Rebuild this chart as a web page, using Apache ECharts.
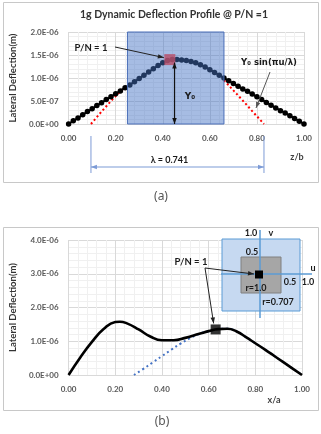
<!DOCTYPE html>
<html><head><meta charset="utf-8">
<script src="https://cdn.jsdelivr.net/npm/echarts@6/dist/echarts.min.js"></script>
<style>html,body{margin:0;padding:0;background:#fff}#c{width:321px;height:434px}</style>
</head><body><div id="c"></div>
<script>
// ---------- DATA (deflection values in units of 1E-06 m) ----------
// Panel (a): 1g dynamic deflection profile vs z/b
const zA = [0.00,0.02,0.04,0.06,0.08,0.10,0.12,0.14,0.16,0.18,0.20,0.22,0.24,0.26,0.28,0.30,0.32,0.34,0.36,0.38,0.40,0.42,0.44,0.46,0.48,0.50,0.52,0.54,0.56,0.58,0.60,0.62,0.64,0.66,0.68,0.70,0.72,0.74,0.76,0.78,0.80,0.82,0.84,0.86,0.88,0.90,0.92,0.94,0.96,0.98,1.00];
const defA = [0.00,0.07,0.13,0.20,0.27,0.33,0.40,0.46,0.53,0.59,0.66,0.72,0.79,0.85,0.92,0.99,1.06,1.13,1.20,1.27,1.33,1.38,1.40,1.40,1.39,1.38,1.36,1.33,1.29,1.24,1.18,1.12,1.06,1.00,0.94,0.88,0.82,0.76,0.71,0.65,0.59,0.53,0.47,0.41,0.35,0.29,0.24,0.18,0.12,0.06,0.00];
// Fitted Yo sin(pi u / lambda), visible segments outside the highlighted box
const zSinA = [0.095,0.14,0.18,0.22,0.25,null,0.66,0.70,0.74,0.78,0.83];
const sinA  = [0.00,0.27,0.50,0.71,0.84,null,0.95,0.73,0.51,0.28,0.00];
// P/N = 1 point
const pnA = [0.43, 1.40];
// Highlighted box [zStart, zEnd, yLow, yHigh]
const boxA = [0.25, 0.66, 0.0, 2.0];
// Lambda span
const lambdaStart = 0.095, lambdaEnd = 0.83, lambdaText = 'λ = 0.741';
const yoZ = 0.45;

// Panel (b): deflection vs x/a
const xB = [0.00,0.05,0.10,0.15,0.20,0.22,0.25,0.30,0.35,0.40,0.45,0.50,0.56,0.60,0.64,0.68,0.72,0.76,0.80,0.84,0.88,0.92,0.96,1.00];
const defB = [0.00,0.52,0.98,1.36,1.57,1.58,1.53,1.35,1.14,1.03,1.03,1.10,1.22,1.30,1.36,1.37,1.29,1.12,0.94,0.76,0.57,0.38,0.19,0.00];
const xSinB = [0.28,0.32,0.36,0.40,0.44,0.48,0.52,0.56,0.60,0.64,0.68,0.72,0.76,0.80,0.84,0.88,0.92,0.96,1.00];
const sinB  = [0.00,0.18,0.37,0.56,0.75,0.93,1.09,1.22,1.30,1.36,1.37,1.29,1.12,0.94,0.76,0.57,0.38,0.19,0.00];
const pnB = [0.63, 1.35];

// ---------- helpers ----------
function sci(vMicro){
  const v = vMicro * 1e-6;
  if (Math.abs(v) < 1e-15) return '0.0E+00';
  let e = Math.floor(Math.log10(Math.abs(v)) + 1e-9);
  let m = v / Math.pow(10, e);
  return m.toFixed(1) + 'E' + (e < 0 ? '-' : '+') + String(Math.abs(e)).padStart(2, '0');
}
const FONT = 'Lato, "Open Sans", sans-serif';
const pairs = (xs, ys) => xs.map((x, i) => ys[i] === null ? [null, null] : [x, ys[i]]);

const chart = echarts.init(document.getElementById('c'), null, {renderer: 'canvas'});

function xAxisCfg(gi){
  return {
    type: 'value', gridIndex: gi, min: 0, max: 1, interval: 0.2,
    axisLine: {show: true, lineStyle: {color: '#d9d9d9'}},
    axisTick: {show: false},
    axisLabel: {color: '#595959', fontFamily: FONT, fontWeight: 'bold', fontSize: 8, margin: 10,
      formatter: v => v.toFixed(2)},
    splitLine: {show: true, lineStyle: {color: '#d9d9d9', width: 1}},
    minorTick: {show: false, splitNumber: 5},
    minorSplitLine: {show: true, lineStyle: {color: '#f0f0f0', width: 1}}
  };
}
function yAxisCfg(gi, max, interval){
  return {
    type: 'value', gridIndex: gi, min: 0, max: max, interval: interval,
    name: 'Lateral Deflection(m)', nameLocation: 'middle', nameGap: 48,
    nameTextStyle: {color: '#333', fontFamily: FONT, fontWeight: 'bold', fontSize: 9.5},
    axisLine: {show: false}, axisTick: {show: false},
    axisLabel: {color: '#595959', fontFamily: FONT, fontWeight: 'bold', fontSize: 8, margin: 10,
      formatter: v => sci(v)},
    splitLine: {show: true, lineStyle: {color: '#d9d9d9', width: 1}},
    minorTick: {show: false, splitNumber: 5},
    minorSplitLine: {show: true, lineStyle: {color: '#f0f0f0', width: 1}}
  };
}

const option = {
  animation: false,
  backgroundColor: '#ffffff',
  grid: [
    {left: 67, top: 32, width: 237, height: 92},
    {left: 67, top: 240, width: 235, height: 135}
  ],
  xAxis: [xAxisCfg(0), xAxisCfg(1)],
  yAxis: [yAxisCfg(0, 2.0, 0.5), yAxisCfg(1, 4.0, 1.0)],
  series: [
    { type: 'line', xAxisIndex: 0, yAxisIndex: 0, z: 2, showSymbol: false, connectNulls: false,
      data: pairs(zSinA, sinA),
      lineStyle: {color: '#ff0000', width: 2, type: [2, 2.5]} },
    { type: 'line', xAxisIndex: 0, yAxisIndex: 0, z: 3, symbol: 'circle', symbolSize: 5.5,
      data: pairs(zA, defA),
      lineStyle: {color: '#000', width: 2}, itemStyle: {color: '#000'} },
    { type: 'custom', xAxisIndex: 0, yAxisIndex: 0, z: 4, data: [boxA],
      renderItem: (params, api) => {
        const p0 = api.coord([api.value(0), api.value(3)]);
        const p1 = api.coord([api.value(1), api.value(2)]);
        return {type: 'rect', shape: {x: p0[0], y: p0[1], width: p1[0] - p0[0], height: p1[1] - p0[1]},
          style: {fill: 'rgba(68,114,196,0.48)', stroke: '#4a6fb8', lineWidth: 1}};
      } },
    { type: 'scatter', xAxisIndex: 0, yAxisIndex: 0, z: 6, symbol: 'rect', symbolSize: 11,
      data: [pnA], itemStyle: {color: '#b94d68'} },
    { type: 'line', xAxisIndex: 1, yAxisIndex: 1, z: 2, showSymbol: false,
      data: pairs(xSinB, sinB), smooth: true,
      lineStyle: {color: '#4472c4', width: 2, type: [2, 3]} },
    { type: 'line', xAxisIndex: 1, yAxisIndex: 1, z: 3, showSymbol: false, smooth: true,
      data: pairs(xB, defB), lineStyle: {color: '#000', width: 2.6} },
    { type: 'scatter', xAxisIndex: 1, yAxisIndex: 1, z: 6, symbol: 'rect', symbolSize: 10,
      data: [pnB], itemStyle: {color: '#000'} }
  ]
};
chart.setOption(option);

// ---------- annotations ----------
const pA = v => chart.convertToPixel({xAxisIndex: 0, yAxisIndex: 0}, v);
const pB = v => chart.convertToPixel({xAxisIndex: 1, yAxisIndex: 1}, v);

function head(x1, y1, x2, y2, len, wid, color){
  const a = Math.atan2(y2 - y1, x2 - x1);
  const bx = x2 - len * Math.cos(a), by = y2 - len * Math.sin(a);
  const nx = -Math.sin(a) * wid / 2, ny = Math.cos(a) * wid / 2;
  return {type: 'polygon', z: 20, shape: {points: [[x2, y2], [bx + nx, by + ny], [bx - nx, by - ny]]}, style: {fill: color}};
}
function line(x1, y1, x2, y2, color, w){
  return {type: 'line', z: 20, shape: {x1, y1, x2, y2}, style: {stroke: color, lineWidth: w || 1}};
}
function arrow(x1, y1, x2, y2, color, w, both){
  const els = [line(x1, y1, x2, y2, color, w), head(x1, y1, x2, y2, 6, 4.5, color)];
  if (both) els.push(head(x2, y2, x1, y1, 6, 4.5, color));
  return els;
}
function txt(x, y, t, opt){
  return {type: 'text', z: 21, x, y, style: Object.assign({text: t, fill: '#1a1a1a', font: 'bold 9px ' + FONT,
    align: 'center', verticalAlign: 'middle'}, opt || {})};
}
const g = [];
// panel frames
g.push({type: 'rect', z: 0, shape: {x: 3.5, y: 2.5, width: 315, height: 180}, style: {fill: 'none', stroke: '#c8c8c8', lineWidth: 1}});
g.push({type: 'rect', z: 0, shape: {x: 3.5, y: 227.5, width: 315, height: 183}, style: {fill: 'none', stroke: '#c8c8c8', lineWidth: 1}});
// titles / axis names / captions
g.push(txt(174, 15, '1g Dynamic Deflection Profile @ P/N =1', {font: 'bold 10.5px ' + FONT, fill: '#333'}));
g.push(txt(297, 157, 'z/b', {font: 'bold 9px ' + FONT, fill: '#404040'}));
g.push(txt(274, 400, 'x/a', {font: 'bold 9px ' + FONT, fill: '#404040'}));
g.push(txt(161, 197, '(a)', {font: '12px "Noto Sans", sans-serif', fill: '#555'}));
g.push(txt(162, 422, '(b)', {font: '12px "Noto Sans", sans-serif', fill: '#555'}));

// (a) annotations
const mA = pA(pnA);
g.push(txt(91, 48, 'P/N = 1', {font: 'bold 9.5px ' + FONT}));
g.push(...arrow(115, 47, mA[0] - 6, mA[1] - 2, '#222', 1));
const yTop = pA([yoZ, pnA[1]]), yBot = pA([yoZ, 0]);
g.push(...arrow(yTop[0], yTop[1] + 3, yBot[0], yBot[1], '#111', 1.2, true));
g.push(txt(190, 97, 'Y₀', {font: 'bold 9px "DejaVu Sans", ' + FONT}));
g.push(txt(269, 63, 'Y₀ sin(πu/λ)', {font: 'bold 8.5px "DejaVu Sans", ' + FONT}));
g.push(...arrow(270, 72, 256, 108, '#555', 1));
const l0 = pA([lambdaStart, 0]), l1 = pA([lambdaEnd, 0]);
const lc = '#7d9bd6';
g.push(line(l0[0], 136, l0[0], 173, lc, 1));
g.push(line(l1[0], 136, l1[0], 173, lc, 1));
g.push(...arrow(l0[0], 167, l1[0], 167, lc, 1.2, true));
g.push(txt((l0[0] + l1[0]) / 2 - 8, 160, lambdaText, {font: 'bold 9px ' + FONT}));

// (b) annotations: inset square diagram
g.push({type: 'rect', z: 10, shape: {x: 222, y: 239, width: 78, height: 72}, style: {fill: '#c6d9f1', stroke: '#5b9bd5', lineWidth: 1}});
g.push({type: 'rect', z: 11, shape: {x: 241, y: 257, width: 40, height: 36}, style: {fill: '#a6a6a6', stroke: '#808080', lineWidth: 1}});
g.push({type: 'line', z: 12, shape: {x1: 260, y1: 230, x2: 260, y2: 318}, style: {stroke: '#5b9bd5', lineWidth: 1.5}});
g.push({type: 'line', z: 12, shape: {x1: 221, y1: 274, x2: 312, y2: 274}, style: {stroke: '#5b9bd5', lineWidth: 1.5}});
g.push({type: 'rect', z: 13, shape: {x: 255, y: 270.5, width: 8, height: 8}, style: {fill: '#000'}});
g.push(txt(251, 233, '1.0'));
g.push(txt(271, 233, 'v'));
g.push(txt(252, 252, '0.5'));
g.push(txt(313, 268, 'u'));
g.push(txt(290, 282, '0.5'));
g.push(txt(308, 282, '1.0'));
g.push(txt(256, 288, 'r=1.0'));
g.push(txt(278, 302, 'r=0.707'));
g.push(txt(191, 262, 'P/N = 1', {font: 'bold 9.5px ' + FONT}));
const mB = pB(pnB);
g.push(...arrow(205, 268, 254, 274, '#222', 1));
g.push(...arrow(205, 268, mB[0] - 2, mB[1] - 6, '#222', 1));

chart.setOption({graphic: {elements: g}});
</script>
</body></html>
